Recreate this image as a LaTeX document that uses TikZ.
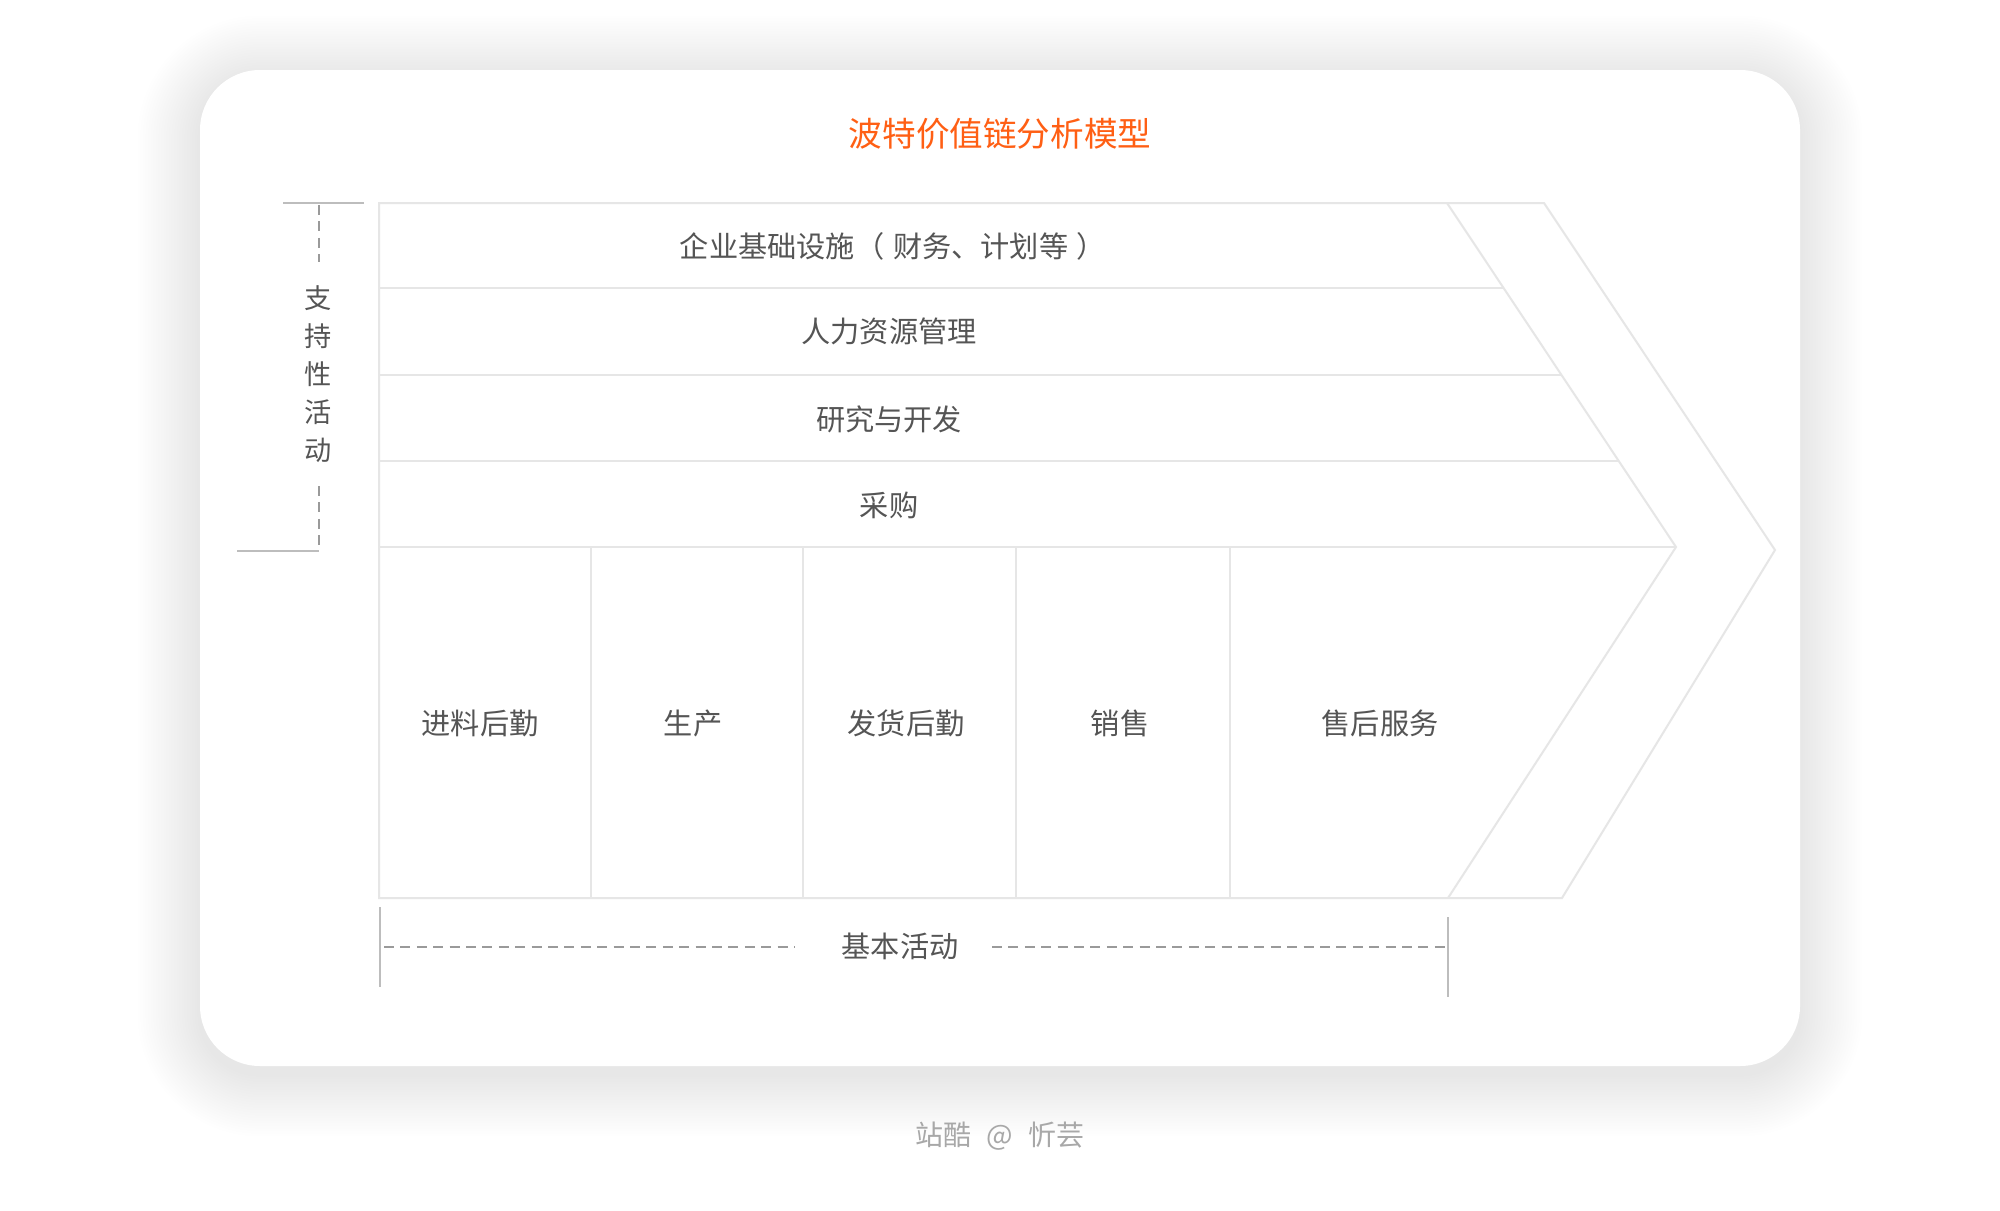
\documentclass[tikz,border=0pt]{standalone}
\usepackage{fontspec}
\setmainfont{Noto Sans CJK SC}
\definecolor{boxline}{HTML}{E6E6E6}
\definecolor{brk}{HTML}{BDBDBD}
\definecolor{dsh}{HTML}{9A9A9A}
\definecolor{txt}{HTML}{555555}
\definecolor{ttl}{HTML}{FF5F14}
\definecolor{foot}{HTML}{A8A8A8}
\begin{document}
\begin{tikzpicture}[x=0.5pt,y=-0.5pt,
  boxln/.style={draw=boxline,line width=1pt},
  brkln/.style={draw=brk,line width=1pt},
  dshln/.style={draw=dsh,line width=1pt,dash pattern=on 5pt off 3.2pt},
  lbl/.style={text=txt,inner sep=0pt,font=\fontsize{14.6}{16}\selectfont},
]
\useasboundingbox (0,0) rectangle (2000,1210);
\fill[white] (0,0) rectangle (2000,1210);
% soft shadow
\foreach \i in {1,...,24}{
  \fill[black,opacity=0.0032,rounded corners={30pt+\i*1.3pt}] (200-\i*2.6,70-\i*2.6+8) rectangle (1800+\i*2.6,1066+\i*2.6+8);
}
\fill[white,rounded corners=30pt] (200,70) rectangle (1800,1066);

% title
\node[text=ttl,inner sep=0pt,font=\fontsize{16.8}{18}\selectfont] (title) at (1000,134) {波特价值链分析模型};

% main outline
\draw[boxln,line join=miter] (379,203) -- (1544,203) -- (1775,550) -- (1562,898) -- (379,898) -- cycle;
\draw[boxln] (1447,203) -- (1676,547) -- (1448,898);
\draw[boxln] (379,288) -- (1504,288);
\draw[boxln] (379,375) -- (1561,375);
\draw[boxln] (379,461) -- (1618,461);
\draw[boxln] (379,547) -- (1676,547);
\foreach \xx in {591,803,1016,1230}{
  \draw[boxln] (\xx,547) -- (\xx,898);
}

% row labels
\node[lbl] (r1) at (893,246) {企业基础设施（\hspace{0.3em}财务、计划等\hspace{0.3em}）};
\node[lbl] (r2) at (889,331) {人力资源管理};
\node[lbl] (r3) at (889,419) {研究与开发};
\node[lbl] (r4) at (889,505) {采购};

% column labels
\node[lbl] (c1) at (480,723) {进料后勤};
\node[lbl] (c2) at (693,723) {生产};
\node[lbl] (c3) at (906,723) {发货后勤};
\node[lbl] (c4) at (1120,723) {销售};
\node[lbl] (c5) at (1380,723) {售后服务};

% left bracket (support activities)
\draw[brkln] (283,203) -- (364,203);
\draw[brkln] (237,551) -- (319,551);
\node[text=txt,inner sep=0pt,align=center,font=\fontsize{13.6}{19}\selectfont] (sup) at (318,374) {支\\持\\性\\活\\动};
\draw[dshln] (319,205) -- (319,262);
\draw[dshln] (319,486) -- (319,548);

% bottom bracket (primary activities)
\draw[brkln] (380,907) -- (380,987);
\draw[brkln] (1448,917) -- (1448,997);
\node[lbl] (base) at (900,946) {基本活动};
\draw[dshln] (384,947) -- (795,947);
\draw[dshln] (992,947) -- (1446,947);

% footer
\node[text=foot,inner sep=0pt,font=\fontsize{14}{16}\selectfont] (footer) at (1000,1136) {站酷\hspace{0.55em}@\hspace{0.55em}忻芸};
\end{tikzpicture}
\end{document}
